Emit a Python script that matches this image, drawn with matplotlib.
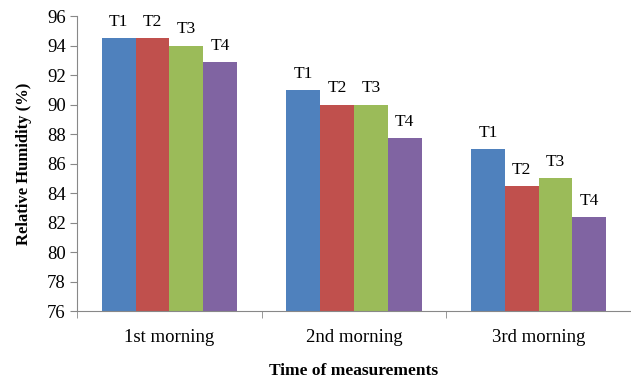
import numpy as np
import matplotlib.pyplot as plt

plt.rcParams['font.family'] = ['Liberation Serif', 'DejaVu Serif']

mornings = ['1st morning', '2nd morning', '3rd morning']
treatments = ['T1', 'T2', 'T3', 'T4']
t1 = [94.5, 91.0, 87.0]
t2 = [94.5, 90.0, 84.5]
t3 = [94.0, 90.0, 85.0]
t4 = [92.9, 87.7, 82.4]
colors = ['#4F81BD', '#C0504D', '#9BBB59', '#8064A2']

fig = plt.figure(figsize=(6.31, 3.86), dpi=100)
ax = fig.add_axes([0.122, 0.194, 0.878, 0.7645])

x = np.arange(len(mornings))
width = 0.183
base = 76
for i, (vals, name) in enumerate(zip([t1, t2, t3, t4], treatments)):
    pos = x + (i - 1.5) * width
    heights = np.array(vals) - base
    ax.bar(pos, heights, width, bottom=base, color=colors[i])
    for p, v in zip(pos, vals):
        ax.text(p, v + 0.55, name, ha='center', va='bottom', fontsize=12.5)

ax.set_ylim(76, 96)
ax.set_yticks(np.arange(76, 97, 2))
ax.set_xlim(-0.5, 2.5)
ax.set_xticks(x)
ax.set_xticklabels(mornings, fontsize=13.5)
ax.set_xticks([-0.5, 0.5, 1.5, 2.5], minor=True)
ax.tick_params(axis='x', which='major', length=0, pad=13)
ax.tick_params(axis='x', which='minor', length=5, color='#888888')
ax.tick_params(axis='y', labelsize=13.5, length=5, color='#888888', pad=3)

for side in ['top', 'right']:
    ax.spines[side].set_visible(False)
for side in ['left', 'bottom']:
    ax.spines[side].set_color('#888888')

ax.set_ylabel('Relative Humidity (%)', fontsize=12, fontweight='bold', labelpad=11)
ax.set_xlabel('Time of measurements', fontsize=12.5, fontweight='bold', labelpad=12)

fig.savefig('out.png', dpi=100)
